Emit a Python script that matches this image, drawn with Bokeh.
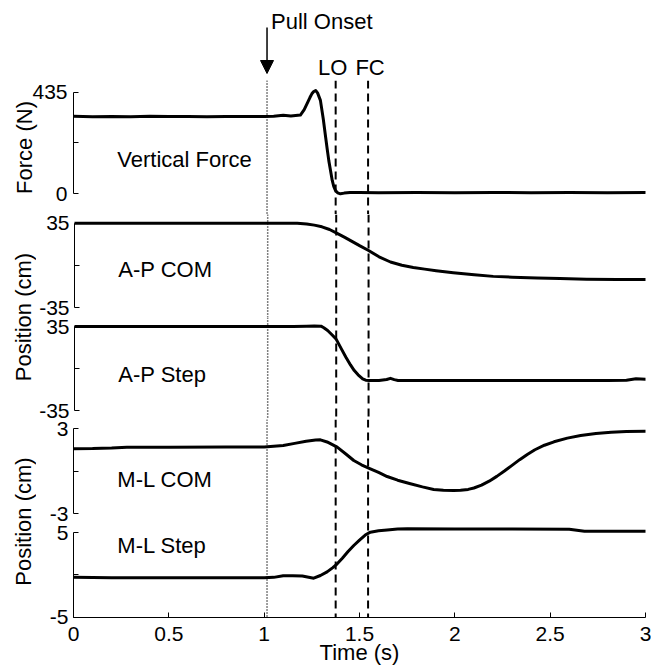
from bokeh.plotting import figure
from bokeh.models import (Range1d, FixedTicker, Span, Label, Arrow, NormalHead,
                          NumeralTickFormatter)
from bokeh.layouts import column, row
from bokeh.embed import file_html
from bokeh.resources import INLINE

FONT = "Liberation Sans"

# ---------------- data ----------------
EVENT_PULL = 1.015   # Pull Onset (s)
EVENT_LO = 1.375     # lift-off (s)
EVENT_FC = 1.545     # foot contact (s)

T_FORCE = [0, 0.1, 0.2, 0.3, 0.4, 0.5, 0.6, 0.7, 0.8, 0.9, 1.0, 1.05, 1.1, 1.14,
           1.19, 1.21, 1.225, 1.24, 1.25, 1.26, 1.27, 1.28, 1.295, 1.31, 1.32,
           1.33, 1.339, 1.35, 1.357, 1.365, 1.374, 1.385, 1.4, 1.42, 1.45, 1.5,
           1.6, 1.8, 2.0, 2.2, 2.4, 2.6, 2.8, 3.0]
FORCE_N = [332, 330, 331, 330, 332, 331, 331, 330, 331, 331, 331, 332, 336, 333,
           337, 360, 386, 412, 428, 438, 442, 432, 400, 320, 257,
           195, 142, 90, 57, 32, 14, 4, 0, 3, 6, 6,
           5, 6, 5, 6, 5, 6, 5, 6]

T_AP_COM = [0, 0.5, 1.0, 1.1, 1.17, 1.22, 1.26, 1.3, 1.34, 1.38, 1.42, 1.46, 1.5,
            1.545, 1.6, 1.66, 1.72, 1.78, 1.84, 1.9, 1.99, 2.1, 2.2, 2.3, 2.43,
            2.55, 2.69, 2.85, 3.0]
AP_COM_CM = [35, 35, 35, 35, 35, 34.4, 33.4, 32.0, 29.8, 26.6, 23.3, 19.8, 16.2,
             12.4, 7.2, 2.9, 0.2, -1.6, -3.0, -4.3, -6.0, -7.7, -9.0, -9.7, -10.3,
             -10.8, -11.3, -11.5, -11.6]

T_AP_STEP = [0, 0.5, 1.0, 1.15, 1.22, 1.26, 1.295, 1.31, 1.33, 1.35, 1.374, 1.4,
             1.426, 1.45, 1.47, 1.49, 1.514, 1.53, 1.549, 1.6, 1.64, 1.66, 1.68,
             1.7, 1.8, 2.0, 2.2, 2.4, 2.6, 2.8, 2.9, 2.95, 3.0]
AP_STEP_CM = [35, 35, 35, 35, 35.3, 35.4, 35.3, 34.0, 31.7, 28.5, 24.7, 17.0,
              9.4, 3.0, -1.7, -5.3, -8.6, -9.7, -10.0, -10.0, -9.2, -8.2, -9.3,
              -10.0, -10.0, -10.0, -9.9, -10.0, -9.9, -10.0, -9.8, -8.6, -9.0]

T_ML_COM = [0, 0.1, 0.2, 0.28, 0.5, 0.8, 1.0, 1.1, 1.16, 1.22, 1.27, 1.295, 1.33,
            1.383, 1.43, 1.47, 1.51, 1.557, 1.6, 1.645, 1.7, 1.767, 1.83, 1.889,
            1.94, 1.994, 2.03, 2.07, 2.1, 2.14, 2.18, 2.22, 2.26, 2.3, 2.34,
            2.38, 2.42, 2.47, 2.52, 2.59, 2.66, 2.74, 2.82, 2.9, 3.0]
ML_COM_CM = [1.57, 1.58, 1.62, 1.68, 1.68, 1.69, 1.70, 1.80, 1.95, 2.10, 2.19,
             2.20, 2.05, 1.68, 1.18, 0.74, 0.44, 0.15, -0.10, -0.39, -0.65,
             -0.90, -1.12, -1.30, -1.36, -1.38, -1.36, -1.30, -1.20, -1.00,
             -0.72, -0.38, 0.0, 0.40, 0.80, 1.17, 1.50, 1.82, 2.06, 2.32,
             2.51, 2.65, 2.74, 2.79, 2.81]

T_ML_STEP = [0, 0.2, 0.5, 0.8, 1.0, 1.05, 1.1, 1.15, 1.2, 1.26, 1.295, 1.33,
             1.36, 1.383, 1.41, 1.44, 1.47, 1.5, 1.53, 1.557, 1.6, 1.645, 1.7,
             1.75, 2.0, 2.3, 2.6, 2.63, 2.68, 3.0]
ML_STEP_CM = [-0.30, -0.35, -0.35, -0.35, -0.35, -0.30, -0.10, -0.10, -0.15,
              -0.40, -0.08, 0.35, 0.85, 1.30, 1.95, 2.75, 3.46, 4.10, 4.70,
              5.04, 5.20, 5.30, 5.40, 5.43, 5.40, 5.40, 5.38, 5.30, 5.15, 5.15]

X_TICKS = [0, 0.5, 1, 1.5, 2, 2.5, 3]
FORCE_TICKS = [0, 435]
AP_TICKS = [-35, 35]
MLCOM_TICKS = [-3, 3]
MLSTEP_TICKS = [-5, 5]

PANEL_NAMES = ["Vertical Force", "A-P COM", "A-P Step", "M-L COM", "M-L Step"]

# ---------------- layout constants ----------------
FULL_W = 651
LAB_W = 36
RIGHT_B = 6
TICK_SIZE = "21px"
TEXT_SIZE = "22px"
LINE_W = 3
TEXT_LIFT = 8  # px, lift of in-plot texts

x_range = Range1d(0, 3)


def base_fig(width, height, yr, left, top=0, bottom=0, xaxis=False, yaxis=True):
    p = figure(width=width, height=height, x_range=x_range, y_range=Range1d(*yr),
               output_backend="svg", toolbar_location=None, tools="",
               x_axis_location="below" if xaxis else None,
               y_axis_location="left" if yaxis else None,
               min_border_left=left, min_border_right=RIGHT_B, min_border_top=top,
               min_border_bottom=bottom)
    p.outline_line_color = None
    p.background_fill_color = "white"
    p.border_fill_color = "white"
    p.grid.visible = False
    return p


def style_yaxis(p, ticks, standoff=5):
    ax = p.yaxis[0]
    lo, hi = ticks
    ax.bounds = (lo, hi)
    ax.ticker = FixedTicker(ticks=[lo, hi], minor_ticks=[(lo + hi) / 2])
    ax.major_label_overrides = {lo: str(lo), hi: str(hi)}
    ax.major_tick_in = 5
    ax.major_tick_out = 0
    ax.minor_tick_in = 5
    ax.minor_tick_out = 0
    ax.major_label_standoff = standoff
    ax.major_label_text_font = FONT
    ax.major_label_text_font_size = TICK_SIZE
    ax.major_label_text_color = "black"
    ax.axis_line_color = "black"
    ax.major_tick_line_color = "black"
    ax.minor_tick_line_color = "black"
    ax.axis_label_text_font = FONT
    ax.axis_label_text_font_size = TEXT_SIZE
    ax.axis_label_text_font_style = "normal"
    ax.axis_label_text_color = "black"


def curve(p, xs, ys):
    p.line(xs, ys, line_color="black", line_width=LINE_W, line_join="round",
           line_cap="round")


def spans(p):
    p.add_layout(Span(location=EVENT_PULL, dimension="height", line_color="black",
                      line_width=1.5, line_dash="1 2"))
    for t in (EVENT_LO, EVENT_FC):
        p.add_layout(Span(location=t, dimension="height", line_color="black",
                          line_width=2, line_dash="8 5"))


def text_label(p, x, y, text, align="left", x_offset=0):
    p.add_layout(Label(x=x, y=y, x_offset=x_offset, text=text, text_font=FONT,
                       text_font_size=TEXT_SIZE, text_color="black",
                       text_align=align, text_baseline="alphabetic"))


# ---------- top strip : event annotations ----------
f0 = base_fig(FULL_W, 80, (0, 80), left=73, yaxis=False)
f0.add_layout(Arrow(end=NormalHead(size=13, fill_color="black", line_color="black"),
                    x_start=EVENT_PULL, y_start=53, x_end=EVENT_PULL, y_end=7,
                    line_color="black", line_width=1.5))
text_label(f0, EVENT_PULL, 51.5 + TEXT_LIFT, "Pull Onset", x_offset=4)
text_label(f0, EVENT_LO, 5 + TEXT_LIFT, "LO", align="center", x_offset=-3)
text_label(f0, EVENT_FC, 5 + TEXT_LIFT, "FC", align="center", x_offset=2)

# ---------- panel 1 : vertical force ----------
f1 = base_fig(FULL_W, 134, (-88.6, 485.0), left=73)
style_yaxis(f1, FORCE_TICKS, standoff=6)
f1.yaxis[0].axis_label = "Force (N)"
f1.yaxis[0].axis_label_standoff = -8
spans(f1)
curve(f1, T_FORCE, FORCE_N)
text_label(f1, 0.23, 112 + TEXT_LIFT / 0.2336, PANEL_NAMES[0])

# ---------- panels 2-5 ----------
PW = FULL_W - LAB_W
PL = 73 - LAB_W

f2 = base_fig(PW, 103, (-43.03, 42.2), left=PL)
style_yaxis(f2, AP_TICKS)
spans(f2)
curve(f2, T_AP_COM, AP_COM_CM)
text_label(f2, 0.23, -9.7 + TEXT_LIFT / 1.2086, PANEL_NAMES[1])

f3 = base_fig(PW, 102, (-42.5, 42.5), left=PL)
style_yaxis(f3, AP_TICKS)
spans(f3)
curve(f3, T_AP_STEP, AP_STEP_CM)
text_label(f3, 0.23, -11.4 + TEXT_LIFT / 1.2, PANEL_NAMES[2])

f4 = base_fig(PW, 103, (-3.635, 3.635), left=PL)
style_yaxis(f4, MLCOM_TICKS)
spans(f4)
curve(f4, T_ML_COM, ML_COM_CM)
text_label(f4, 0.23, -1.14 + TEXT_LIFT / 14.17, PANEL_NAMES[3])

f5 = base_fig(PW, 150, (-5.04, 6.18), left=PL, bottom=55, xaxis=True)
style_yaxis(f5, MLSTEP_TICKS)
spans(f5)
curve(f5, T_ML_STEP, ML_STEP_CM)
text_label(f5, 0.23, 2.52 + TEXT_LIFT / 8.467, PANEL_NAMES[4])
xa = f5.xaxis[0]
xa.bounds = (0, 3)
xa.ticker = FixedTicker(ticks=X_TICKS, minor_ticks=[])
xa.formatter = NumeralTickFormatter(format="0.[0]")
xa.major_tick_in = 5
xa.major_tick_out = 0
xa.minor_tick_in = 0
xa.minor_tick_out = 0
xa.major_label_standoff = 9
xa.major_label_text_font = FONT
xa.major_label_text_font_size = TICK_SIZE
xa.major_label_text_color = "black"
xa.axis_line_color = "black"
xa.major_tick_line_color = "black"
xa.axis_label = "Time (s)"
xa.axis_label_standoff = -4
xa.axis_label_text_font = FONT
xa.axis_label_text_font_size = TEXT_SIZE
xa.axis_label_text_font_style = "normal"
xa.axis_label_text_color = "black"


# ---------- narrow columns carrying the shared "Position (cm)" titles ----------
def label_fig(height, bottom):
    p = figure(width=LAB_W, height=height, x_range=Range1d(0, 1),
               y_range=Range1d(0, 1), output_backend="svg",
               toolbar_location=None, tools="", x_axis_location=None,
               y_axis_location="left", min_border_left=LAB_W - 1,
               min_border_right=0, min_border_top=0, min_border_bottom=bottom)
    p.outline_line_color = None
    p.grid.visible = False
    ax = p.yaxis[0]
    ax.ticker = FixedTicker(ticks=[])
    ax.axis_line_color = None
    ax.major_tick_line_color = None
    ax.minor_tick_line_color = None
    ax.axis_label = "Position (cm)"
    ax.axis_label_standoff = 0
    ax.axis_label_text_font = FONT
    ax.axis_label_text_font_size = TEXT_SIZE
    ax.axis_label_text_font_style = "normal"
    ax.axis_label_text_color = "black"
    return p


labB = label_fig(103 + 102, 0)
labC = label_fig(103 + 150, 49)

layout = column(f0, f1,
                row(labB, column(f2, f3, spacing=0), spacing=0),
                row(labC, column(f4, f5, spacing=0), spacing=0),
                spacing=0)

open("out.html", "w").write(file_html(layout, INLINE))
